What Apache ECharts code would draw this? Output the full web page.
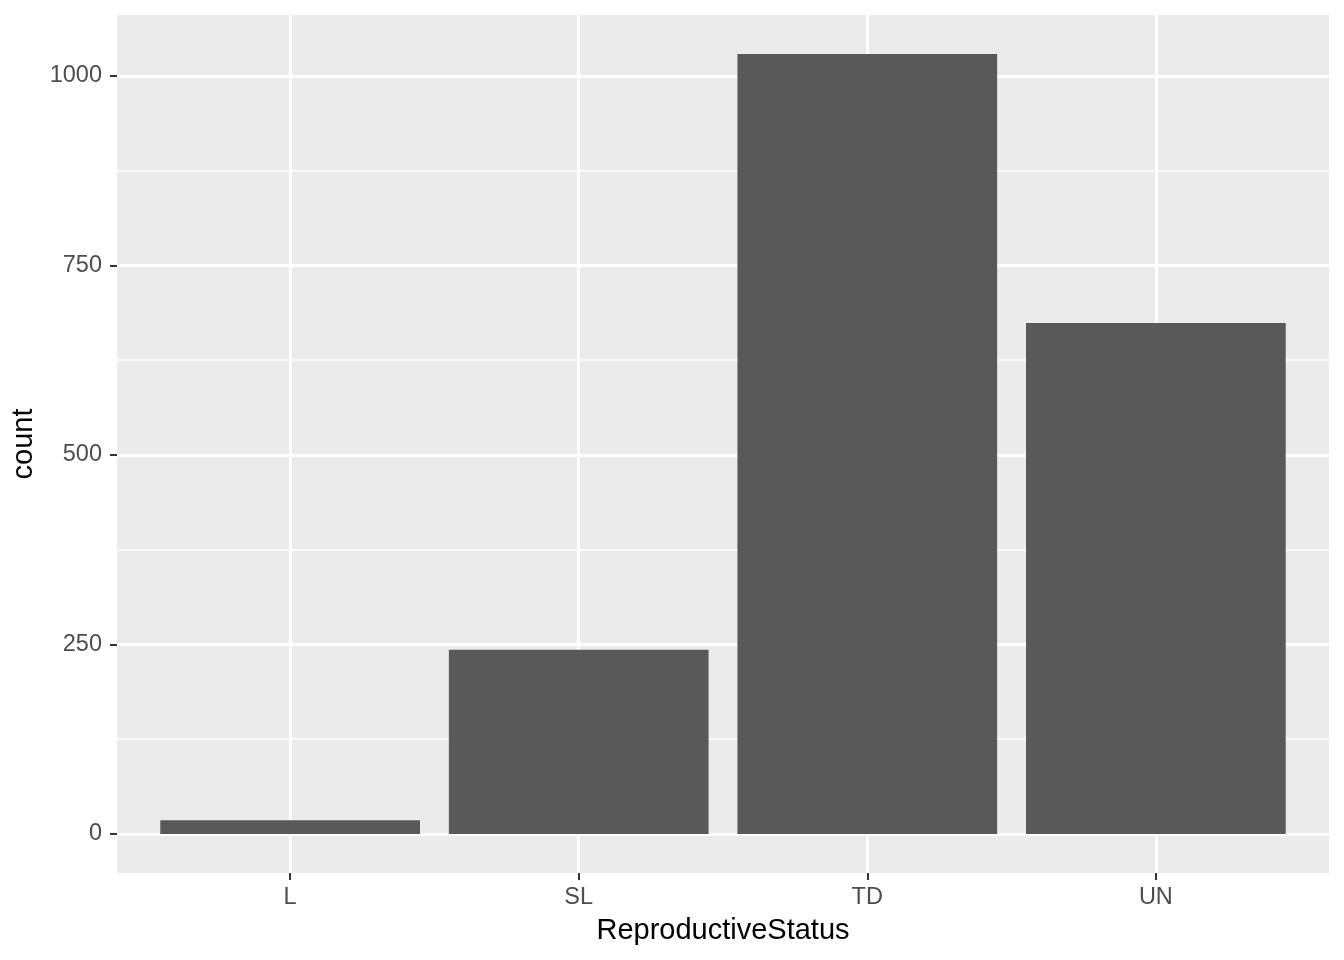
<!DOCTYPE html>
<html>
<head>
<meta charset="utf-8">
<script src="https://cdn.jsdelivr.net/npm/echarts@6/dist/echarts.min.js"></script>
<style>
  html, body { margin: 0; padding: 0; background: #fff; }
  #main { width: 1344px; height: 960px; }
</style>
</head>
<body>
<div id="main"></div>
<script>
// categories and counts
const categories = ['L', 'SL', 'TD', 'UN'];
const counts = [18, 243, 1029, 674];
const yTicks = [0, 250, 500, 750, 1000];
const yMinorTicks = [125, 375, 625, 875];
const catPos = [1, 2, 3, 4];

let chart = echarts.init(document.getElementById('main'));

const font = 'Liberation Sans, Arial, Helvetica, sans-serif';
const yMin = -51.45, yMax = 1080.45;

let option = {
    animation: false,
    textStyle: { fontFamily: font },
    grid: {
        left: 117, right: 15, top: 15, bottom: 87,
        outerBoundsMode: 'none',
        containLabel: false,
        show: true, backgroundColor: '#EBEBEB', borderWidth: 0
    },
    xAxis: {
        type: 'value',
        min: 0.4, max: 4.6,
        name: 'ReproductiveStatus',
        nameLocation: 'middle',
        nameGap: 43,
        nameTextStyle: { fontSize: 29, color: '#000', fontFamily: font },
        axisLine: { show: false, onZero: false },
        axisTick: { show: true, length: 7, customValues: catPos, lineStyle: { color: '#333', width: 2 } },
        axisLabel: {
            customValues: catPos,
            margin: 13,
            fontSize: 23.5, color: '#4D4D4D', fontFamily: font,
            formatter: v => categories[Math.round(v) - 1]
        },
        splitLine: { show: true, lineStyle: { color: '#fff', width: 3 } }
    },
    yAxis: [{
        type: 'value',
        min: yMin, max: yMax,
        name: 'count',
        nameLocation: 'middle',
        nameGap: 75,
        nameRotate: 90,
        nameTextStyle: { fontSize: 29, color: '#000', fontFamily: font },
        axisLine: { show: false, onZero: false },
        axisTick: { show: true, length: 7, customValues: yTicks, lineStyle: { color: '#333', width: 2 } },
        axisLabel: {
            customValues: yTicks,
            margin: 15,
            fontSize: 23.5, color: '#4D4D4D', fontFamily: font,
            formatter: v => String(v)
        },
        splitLine: { show: true, lineStyle: { color: '#fff', width: 3 } }
    }, {
        // minor grid lines
        type: 'value',
        min: yMin, max: yMax,
        position: 'left',
        axisLine: { show: false, onZero: false },
        axisTick: { show: false, customValues: yMinorTicks },
        axisLabel: { show: false, customValues: yMinorTicks },
        splitLine: { show: true, lineStyle: { color: '#fff', width: 1.5 } }
    }],
    series: [{
        type: 'bar',
        yAxisIndex: 0,
        barWidth: '90%',
        itemStyle: { color: '#595959' },
        data: counts.map((c, i) => [catPos[i], c])
    }]
};

chart.setOption(option);
</script>
</body>
</html>
